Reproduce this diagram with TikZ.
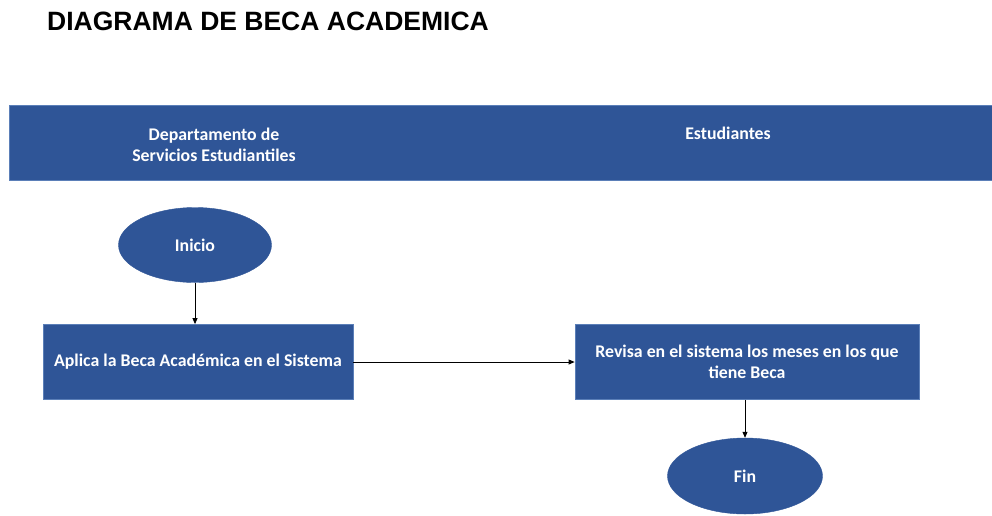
\documentclass[tikz,border=0pt]{standalone}
\usepackage{fontspec}
\setmainfont{Carlito}
\newfontfamily\titlefont{Liberation Sans}
\usetikzlibrary{shapes.geometric,arrows.meta}
\definecolor{boxblue}{HTML}{2F5597}
\definecolor{edgeblue}{HTML}{5B7FB8}
\tikzset{
  every node/.style={font=\bfseries\fontsize{17.8}{21.5}\selectfont, text=white},
  band/.style={fill=boxblue, draw=edgeblue, line width=0.8pt},
  procbox/.style={rectangle, fill=boxblue, draw=edgeblue, line width=0.8pt, align=center, inner sep=0pt},
  term/.style={ellipse, fill=boxblue, draw=boxblue, inner sep=0pt},
  flow/.style={draw=black, line width=0.8pt, -{Triangle[length=6pt,width=5pt]}}
}
\begin{document}
\begin{tikzpicture}[x=1pt,y=-1pt]
\useasboundingbox (0,0) rectangle (992,515);
\node[anchor=west, text=black, inner sep=0pt, font=\titlefont\bfseries\fontsize{26.5}{28}\selectfont] (title) at (47,21) {DIAGRAMA DE BECA ACADEMICA};
\draw[band] (9,105) rectangle (994,180);
\node[align=center] (dept) at (214,145) {Departamento de\\Servicios Estudiantiles};
\node (est) at (728,133) {Estudiantes};
\node[term, minimum width=153pt, minimum height=75pt] (inicio) at (195,245) {Inicio};
\node[procbox, minimum width=310pt, minimum height=75pt] (aplica) at (198,362) {Aplica la Beca Académica en el Sistema};
\node[procbox, minimum width=344pt, minimum height=75pt] (revisa) at (747,362) {Revisa en el sistema los meses en los que\\tiene Beca};
\node[term, minimum width=155pt, minimum height=76pt] (fin) at (745,476) {Fin};
\draw[flow] (inicio.south) -- (inicio.south |- aplica.north);
\draw[flow] (aplica.east) -- (revisa.west);
\draw[flow] (fin.north |- revisa.south) -- (fin.north);
\end{tikzpicture}
\end{document}
